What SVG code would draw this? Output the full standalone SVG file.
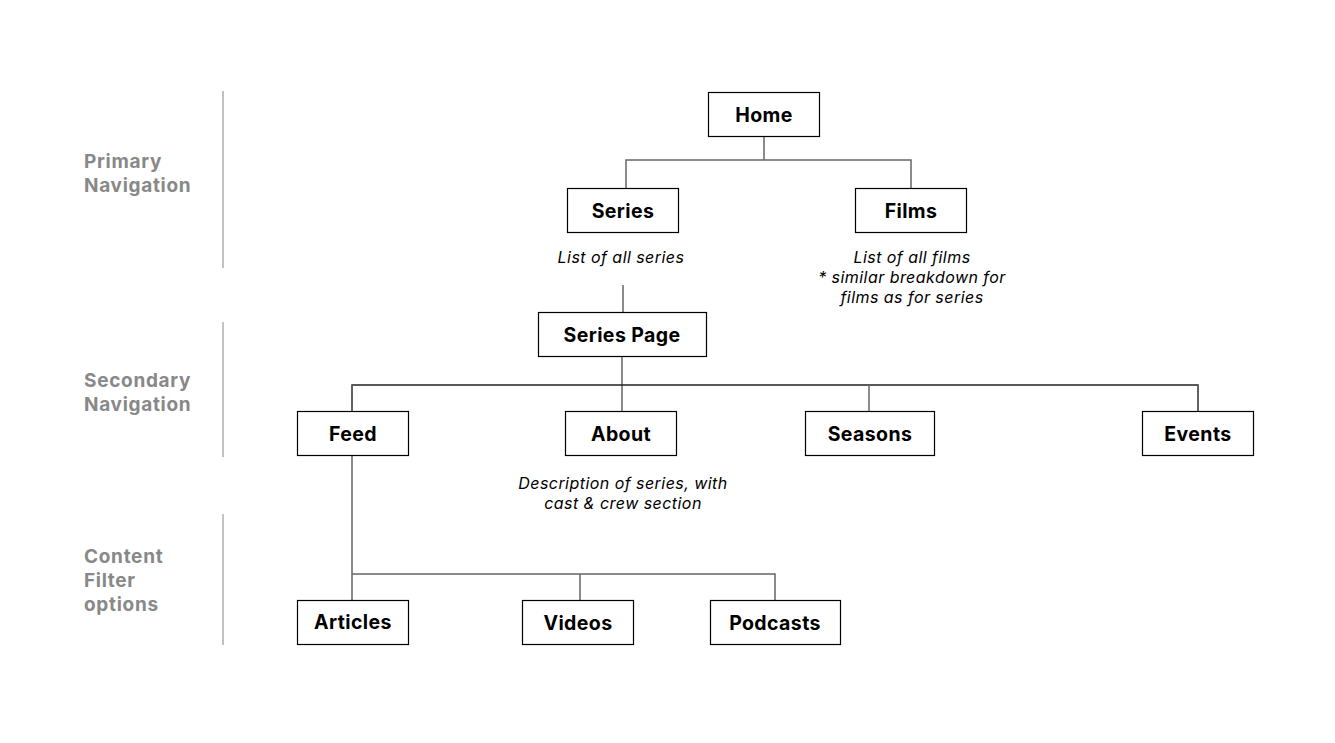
<svg xmlns="http://www.w3.org/2000/svg" width="1335" height="743" viewBox="0 0 1335 743">
<style>
.box{fill:#fff;stroke:#000;stroke-width:1.2}
.lbl{font-family:Inter,"Liberation Sans",sans-serif;font-weight:700;font-size:19.5px;letter-spacing:0.4px;fill:#000;text-anchor:middle}
.note{font-family:Inter,"Liberation Sans",sans-serif;font-style:italic;font-size:16px;letter-spacing:0.45px;fill:#000;text-anchor:middle}
.sec{font-family:Inter,"Liberation Sans",sans-serif;font-weight:700;font-size:19px;letter-spacing:0.7px;fill:#888}
.div{stroke:#999;stroke-width:1.2}
.con{fill:none;stroke:#666;stroke-width:1.5}
</style>
<rect width="1335" height="743" fill="#fff"/>
<g id="sections">
<text class="sec" x="84" y="168">Primary</text>
<text class="sec" x="84" y="192">Navigation</text>
<line class="div" x1="223" y1="91" x2="223" y2="268"/>
<text class="sec" x="84" y="387">Secondary</text>
<text class="sec" x="84" y="411">Navigation</text>
<line class="div" x1="223" y1="322" x2="223" y2="457"/>
<text class="sec" x="84" y="563">Content</text>
<text class="sec" x="84" y="587">Filter</text>
<text class="sec" x="84" y="611">options</text>
<line class="div" x1="223" y1="514" x2="223" y2="645"/>
</g>
<g id="connectors">
<path class="con" d="M764 136V160M626 188V160H911V188"/>
<path class="con" d="M623 285V312"/>
<path class="con" d="M622 356V411"/>
<path class="con" d="M352 411V385H1198V411" style="stroke:#222"/>
<path class="con" d="M869 385V411"/>
<path class="con" d="M352 411V385M1198 385V411"/>
<path class="con" d="M352 455V600M352 574H775V600M580 574V600"/>
</g>
<g id="home"><rect class="box" x="708.5" y="92.5" width="111" height="44"/><text class="lbl" x="764" y="122">Home</text></g>
<g id="series"><rect class="box" x="567.5" y="188.5" width="111" height="44"/><text class="lbl" x="623" y="218">Series</text></g>
<g id="films"><rect class="box" x="855.5" y="188.5" width="111" height="44"/><text class="lbl" x="911" y="218">Films</text></g>
<g id="series-note"><text class="note" x="621" y="263">List of all series</text></g>
<g id="films-note"><text class="note" x="912" y="263">List of all films</text><text class="note" x="912" y="283">* similar breakdown for</text><text class="note" x="912" y="303">films as for series</text></g>
<g id="series-page"><rect class="box" x="538.5" y="312.5" width="168" height="44"/><text class="lbl" x="622" y="342">Series Page</text></g>
<g id="feed"><rect class="box" x="297.5" y="411.5" width="111" height="44"/><text class="lbl" x="353" y="441">Feed</text></g>
<g id="about"><rect class="box" x="565.5" y="411.5" width="111" height="44"/><text class="lbl" x="621" y="441">About</text></g>
<g id="about-note"><text class="note" x="623" y="489">Description of series, with</text><text class="note" x="623" y="509">cast &amp; crew section</text></g>
<g id="seasons"><rect class="box" x="805.5" y="411.5" width="129" height="44"/><text class="lbl" x="870" y="441">Seasons</text></g>
<g id="events"><rect class="box" x="1142.5" y="411.5" width="111" height="44"/><text class="lbl" x="1198" y="441">Events</text></g>
<g id="articles"><rect class="box" x="297.5" y="600.5" width="111" height="44"/><text class="lbl" x="353" y="629">Articles</text></g>
<g id="videos"><rect class="box" x="522.5" y="600.5" width="111" height="44"/><text class="lbl" x="578" y="630">Videos</text></g>
<g id="podcasts"><rect class="box" x="710.5" y="600.5" width="130" height="44"/><text class="lbl" x="775" y="630">Podcasts</text></g>
</svg>
